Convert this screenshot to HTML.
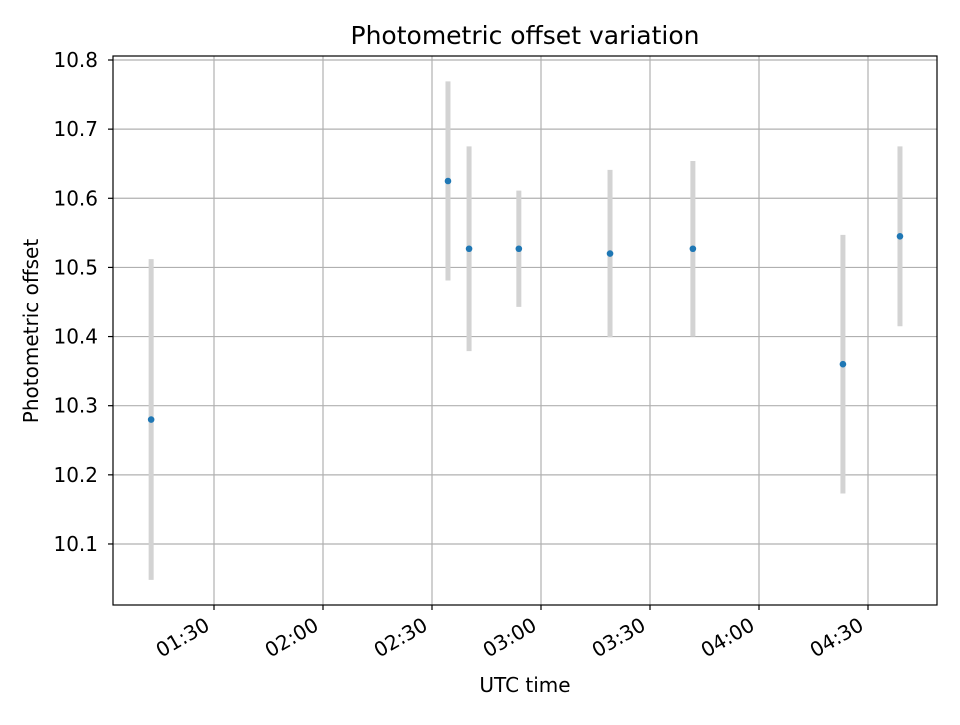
<!DOCTYPE html>
<html><head><meta charset="utf-8"><style>
body{margin:0;background:#fff;}
svg{font-family:"DejaVu Sans","Liberation Sans",sans-serif;}
</style></head><body>
<svg id="chart" width="960" height="720" xmlns="http://www.w3.org/2000/svg">
<rect width="960" height="720" fill="#fff"/>
<g id="grid"></g>
<g id="errs"></g>
<g id="pts"></g>
<rect x="113" y="56" width="824" height="549" fill="none" stroke="#000" stroke-width="1.2"/>
<g id="ticks"></g>
<text x="525" y="44" font-size="25" text-anchor="middle">Photometric offset variation</text>
<text x="525" y="692" font-size="20" text-anchor="middle">UTC time</text>
<text transform="translate(38,331) rotate(-90)" font-size="20" text-anchor="middle">Photometric offset</text>
</svg>
<script>
const times = ["01:12.7","02:34.4","02:40.2","02:53.9","03:19.0","03:41.8","04:23.1","04:38.8"];
const offsets = [10.28,10.625,10.527,10.527,10.52,10.527,10.36,10.545];
const errors = [0.232,0.144,0.148,0.084,0.121,0.127,0.187,0.13];
const yTicks = [10.1,10.2,10.3,10.4,10.5,10.6,10.7,10.8];
const xTickLabels = ["01:30","02:00","02:30","03:00","03:30","04:00","04:30"];

const NS="http://www.w3.org/2000/svg";
function toMin(s){const [h,m]=s.split(":");return +h*60+parseFloat(m);}
const X=m=>214+(m-90)*109/30;
const Y=v=>60+(10.8-v)*691.4;
function mk(tag,attrs,parent){const e=document.createElementNS(NS,tag);for(const k in attrs)e.setAttribute(k,attrs[k]);parent.appendChild(e);return e;}
const grid=document.getElementById('grid'),ticks=document.getElementById('ticks');
yTicks.forEach(v=>{
  const y=Y(v);
  const g=mk('line',{x1:113,x2:937,y1:y,y2:y,stroke:'#b0b0b0','stroke-width':1.2},grid);
  
  
  const t=mk('line',{x1:108,x2:113,y1:y,y2:y,stroke:'#000','stroke-width':1.2},ticks);
  
  
  const l=mk('text',{x:98,y:y+7,'font-size':20,'text-anchor':'end'},ticks);
  l.textContent=v.toFixed(1);
  
  
});
xTickLabels.forEach(s=>{
  const x=X(toMin(s));
  const g=mk('line',{x1:x,x2:x,y1:56,y2:605,stroke:'#b0b0b0','stroke-width':1.2},grid);
  
  
  const t=mk('line',{x1:x,x2:x,y1:605,y2:610,stroke:'#000','stroke-width':1.2},ticks);
  
  
  const ax=x-3, ay=629;
  const l=mk('text',{x:ax,y:ay,'font-size':20,'text-anchor':'end',transform:`rotate(-30 ${ax} ${ay})`},ticks);
  l.textContent=s;
  
  
});
const errs=document.getElementById('errs'),pts=document.getElementById('pts');
times.forEach((s,i)=>{
  const x=X(toMin(s));
  const e=mk('line',{x1:x,x2:x,y1:Y(offsets[i]-errors[i]),y2:Y(offsets[i]+errors[i]),stroke:'#d3d3d3','stroke-width':5},errs);
  
  
  const c=mk('circle',{cx:x,cy:Y(offsets[i]),r:3.3,fill:'#1f77b4'},pts);
  
  
});
</script>
</body></html>
